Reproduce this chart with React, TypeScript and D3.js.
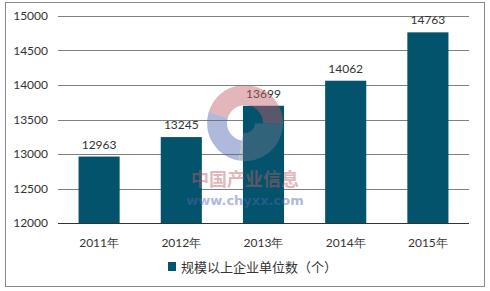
import React from "react";
import * as d3 from "d3";

const categories = ["2011年", "2012年", "2013年", "2014年", "2015年"];
const values = [12963, 13245, 13699, 14062, 14763];
const yTicks = [12000, 12500, 13000, 13500, 14000, 14500, 15000];
const legendLabel = "规模以上企业单位数（个）";

const W = 490;
const H = 291;
const barColor = "#02536b";
const font = "Lato, 'DejaVu Sans', sans-serif";

export default function App() {
  const x = d3.scaleBand<string>().domain(categories).range([58, 469]).paddingInner(0.5).paddingOuter(0.25);
  const y = d3.scaleLinear().domain([12000, 15000]).range([223, 16]);

  return (
    <svg width={W} height={H} style={{ position: "absolute", left: 0, top: 0, background: "#fff" }}>
      <rect x={5.5} y={2.5} width={479} height={284} fill="#fff" stroke="#8a8a8a" strokeWidth={1} />
      {yTicks.map((t) => (
        <g key={t}>
          {t !== 12000 && (
            <line x1={58} x2={469} y1={Math.round(y(t)) + 0.5} y2={Math.round(y(t)) + 0.5} stroke="#808080" strokeWidth={1} />
          )}
          <text x={48} y={y(t)} dy="0.35em" textAnchor="end" fontSize={12} fontFamily={font} fill="#333">
            {t}
          </text>
        </g>
      ))}
      {categories.map((c, i) => (
        <g key={c}>
          <rect x={x(c)!} y={y(values[i])} width={x.bandwidth()} height={y(12000) - y(values[i])} fill={barColor} />
          <text x={x(c)! + x.bandwidth() / 2} y={y(values[i]) - 8} textAnchor="middle" fontSize={12} fontFamily={font} fill="#333">
            {values[i]}
          </text>
          <text x={x(c)! + x.bandwidth() / 2} y={247} textAnchor="middle" fontSize={12} fontFamily={font} fill="#333">
            {c}
          </text>
        </g>
      ))}
      <line x1={58} x2={469} y1={223.5} y2={223.5} stroke="#333" strokeWidth={1} />
      {/* watermark */}
      <g opacity={0.45}>
        <path d={d3.arc()({ innerRadius: 18, outerRadius: 38, startAngle: -1.3, endAngle: 1.6 }) || ""} transform="translate(245,123)" fill="#c0606a" />
        <path d={d3.arc()({ innerRadius: 18, outerRadius: 38, startAngle: 3.3, endAngle: 5.0 }) || ""} transform="translate(245,123)" fill="#5066b0" />
        <path d={d3.arc()({ innerRadius: 10, outerRadius: 38, startAngle: 1.6, endAngle: 3.3 }) || ""} transform="translate(245,123)" fill="#6a7a90" />
        <text x={245} y={186} textAnchor="middle" fontSize={18} fontWeight="bold" fontFamily="'Noto Sans CJK SC', sans-serif" fill="#c0606a">
          中国产业信息
        </text>
        <text x={245} y={205} textAnchor="middle" fontSize={13} fontWeight="bold" fontFamily="'DejaVu Sans', sans-serif" fill="#5066b0">
          www.chyxx.com
        </text>
      </g>
      <rect x={168} y={262} width={8} height={9} fill={barColor} />
      <text x={181} y={267} dy="0.35em" fontSize={13} fontFamily={`${font}, 'Noto Sans CJK SC'`} fill="#333">
        {legendLabel}
      </text>
    </svg>
  );
}
